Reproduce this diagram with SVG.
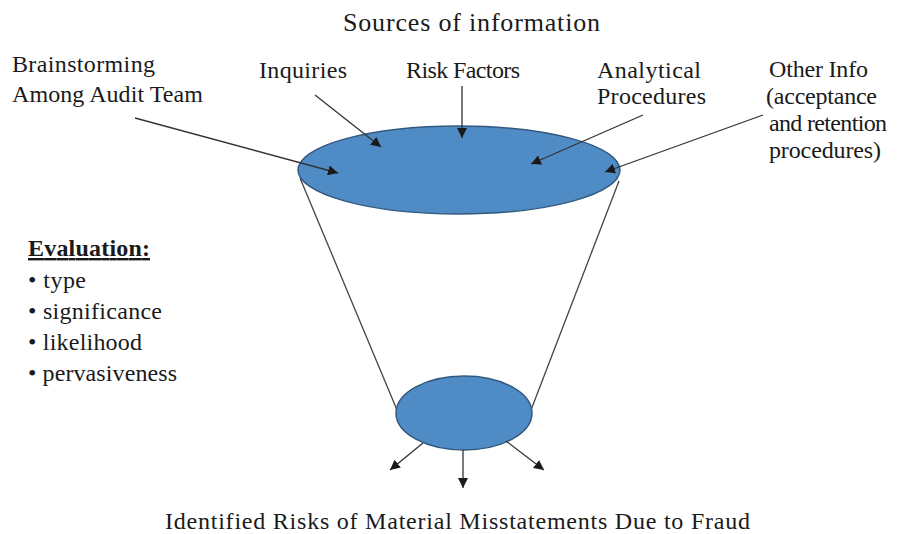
<svg xmlns="http://www.w3.org/2000/svg" width="900" height="534" viewBox="0 0 900 534">
<defs>
<marker id="ah" viewBox="0 0 10 10" refX="10" refY="5" markerWidth="10" markerHeight="10" markerUnits="userSpaceOnUse" orient="auto">
<path d="M0,0 L10,5 L0,10 z" fill="#1a1a1a"/>
</marker>
<style>
.t{font-family:"Liberation Serif","Times New Roman",Times,serif;font-size:24px;fill:#1a1a1a}
.ttl{font-size:26px}
.b{font-weight:bold;text-decoration:underline}
.ar{stroke:#333;stroke-width:1.3;fill:none;marker-end:url(#ah)}
.fl{stroke:#444;stroke-width:1.3;fill:none}
.el{fill:#4f8bc5;stroke:#34597f;stroke-width:1.5}
</style>
</defs>
<rect width="900" height="534" fill="#fff"/>
<g id="funnel-sides">
<line class="fl" x1="300" y1="178" x2="397" y2="410"/>
<line class="fl" x1="619" y1="181" x2="531" y2="410"/>
</g>
<g id="sources-ellipse"><ellipse class="el" cx="459" cy="170" rx="161" ry="44"/></g>
<g id="result-ellipse"><ellipse class="el" cx="464" cy="413" rx="68" ry="37"/></g>
<g id="connectors">
<line class="ar" x1="135" y1="118" x2="338" y2="173"/>
<line class="ar" x1="315" y1="95" x2="381" y2="147"/>
<line class="ar" x1="462" y1="86" x2="462" y2="138"/>
<line class="ar" x1="643" y1="115" x2="531" y2="164"/>
<line class="ar" x1="763" y1="115" x2="605" y2="172"/>
<line class="ar" x1="423" y1="443" x2="390" y2="470"/>
<line class="ar" x1="463" y1="450" x2="463" y2="488"/>
<line class="ar" x1="506" y1="441" x2="544" y2="470"/>
</g>
<g id="title"><text class="t ttl" x="343" y="31" textLength="257">Sources of information</text></g>
<g id="brainstorming"><text class="t" x="12" y="72" textLength="143">Brainstorming</text><text class="t" x="12" y="102" textLength="191">Among Audit Team</text></g>
<g id="inquiries"><text class="t" x="259" y="78" textLength="88">Inquiries</text></g>
<g id="risk-factors"><text class="t" x="406" y="78" textLength="114">Risk Factors</text></g>
<g id="analytical"><text class="t" x="597" y="78" textLength="104">Analytical</text><text class="t" x="597" y="104" textLength="109">Procedures</text></g>
<g id="other-info"><text class="t" x="769" y="77" textLength="99">Other Info</text><text class="t" x="766" y="104" textLength="111">(acceptance</text><text class="t" x="769" y="131" textLength="118">and retention</text><text class="t" x="769" y="158" textLength="112">procedures)</text></g>
<g id="evaluation"><text class="t b" x="28" y="256" textLength="122">Evaluation:</text>
<text class="t" x="28" y="288" textLength="58">• type</text>
<text class="t" x="28" y="319" textLength="134">• significance</text>
<text class="t" x="28" y="350" textLength="114">• likelihood</text>
<text class="t" x="28" y="381" textLength="149">• pervasiveness</text></g>
<g id="result-label"><text class="t" x="165" y="529" textLength="585">Identified Risks of Material Misstatements Due to Fraud</text></g>
</svg>
